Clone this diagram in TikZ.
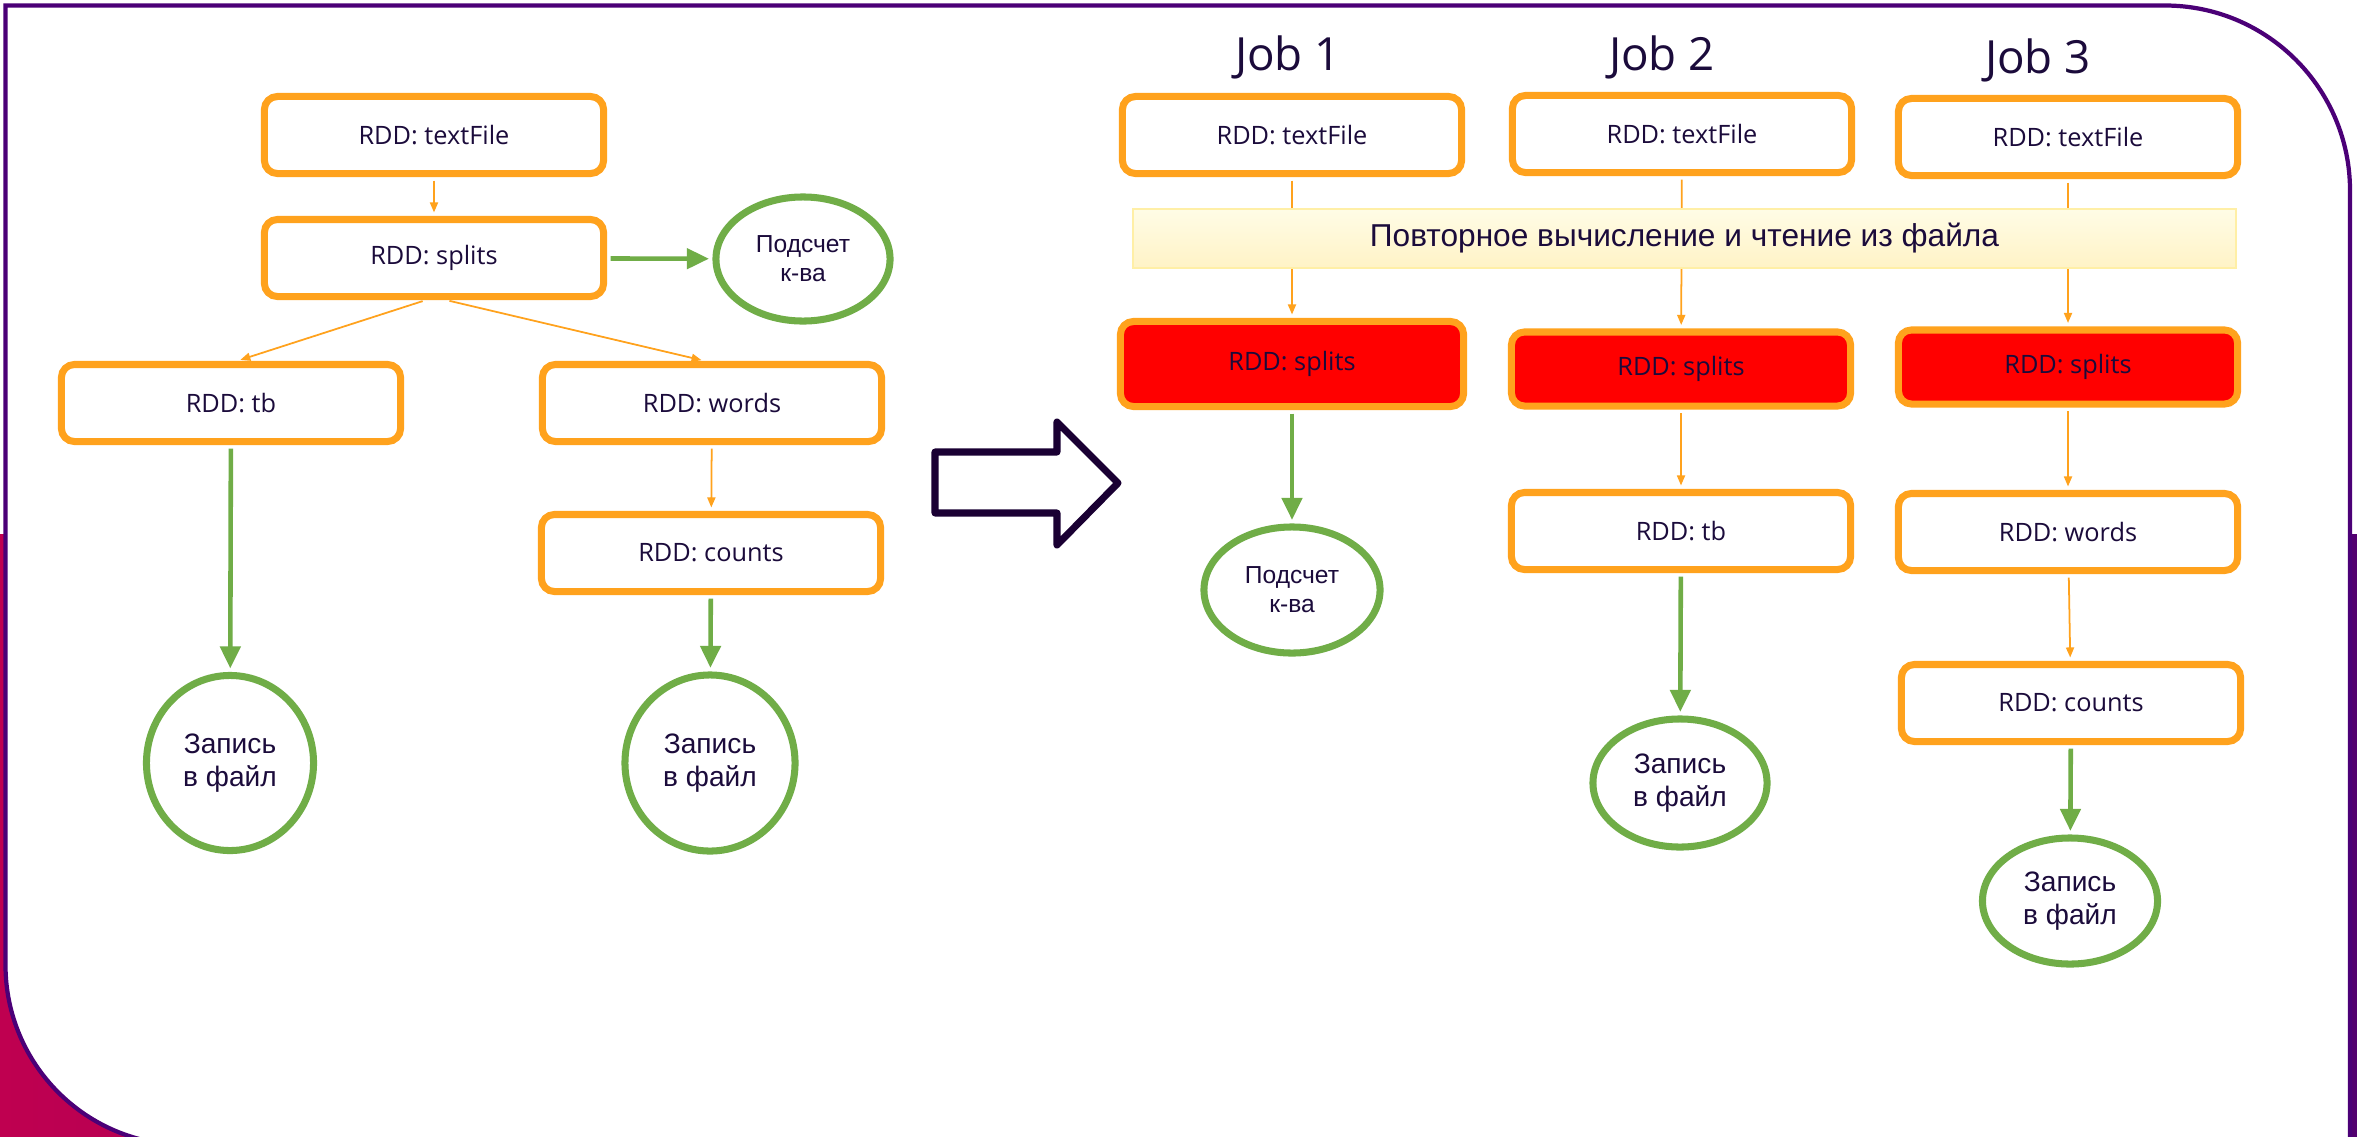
\documentclass[tikz,border=0pt]{standalone}
\usepackage{fontspec}
\setmainfont{Open Sans}
\newfontfamily\arialfont{Liberation Sans}
\usetikzlibrary{arrows.meta,shapes.geometric}

\definecolor{ink}{HTML}{1B0B3B}
\definecolor{arrowink}{HTML}{1A0033}
\definecolor{rddorange}{HTML}{FFA21D}
\definecolor{opgreen}{HTML}{70AD47}
\definecolor{framepurple}{HTML}{4B0077}
\definecolor{bandcrimson}{HTML}{BF0050}
\definecolor{bandpurple}{HTML}{52006F}
\definecolor{bannertop}{HTML}{FFFCE6}
\definecolor{bannerbottom}{HTML}{FFF3C6}
\definecolor{bannerline}{HTML}{FFEFA6}

\tikzset{
  rdd/.style={draw=rddorange, line width=2pt, rounded corners=0.13cm, fill=white,
    minimum width=3.39cm, minimum height=0.77cm, inner sep=0pt, text=ink,
    font=\fontsize{7.2}{9}\selectfont},
  hot/.style={rdd, fill=red},
  op/.style={ellipse, draw=opgreen, line width=2pt, fill=white, inner sep=0pt,
    text=ink, align=center},
  saveop/.style={op, font=\arialfont\fontsize{8}{9.3}\selectfont},
  countop/.style={op, font=\arialfont\fontsize{7}{8.2}\selectfont},
  flow/.style={draw=rddorange, line width=0.5pt, shorten <=1pt, shorten >=1pt,
    -{Triangle[length=0.1cm,width=0.08cm]}},
  act/.style={draw=opgreen, line width=1.3pt, shorten <=1pt, shorten >=1pt,
    -{Triangle[length=0.22cm,width=0.2cm]}},
  jobtitle/.style={text=ink, font=\fontsize{13}{16}\selectfont, inner sep=0pt},
}

\begin{document}
\begin{tikzpicture}[x=0.01cm, y=-0.01cm]
\useasboundingbox (0,0) rectangle (2357,1136);

% slide background and framed white panel
\fill[white] (0,0) rectangle (2357,1136);
\shade[left color=bandcrimson, right color=bandpurple] (0,534) rectangle (2357,1136);
\draw[framepurple, line width=1.2pt, fill=white]
  (5.5,965) -- (5.5,5.5) -- (2165,5.5)
  .. controls (2267,5.5) and (2350,88.5) .. (2350,190.5)
  -- (2350,1145) -- (185.5,1145)
  .. controls (86,1145) and (5.5,1064.4) .. (5.5,965) -- cycle;

% ---------- single lineage ----------
\node[rdd] (lText) at (434,135) {RDD: textFile};
\node[rdd] (lSplit) at (434,258) {RDD: splits};
\node[countop, minimum width=1.74cm, minimum height=1.24cm] (lCount) at (803,259) {Подсчет\\к-ва};
\node[rdd] (lTb) at (231,403) {RDD: tb};
\node[rdd] (lWords) at (712,403) {RDD: words};
\node[rdd] (lCounts) at (711,553) {RDD: counts};
\node[saveop, minimum width=1.67cm, minimum height=1.75cm] (lSave1) at (230,763) {Запись\\в файл};
\node[saveop, minimum width=1.70cm, minimum height=1.76cm] (lSave2) at (710,763) {Запись\\в файл};

\draw[flow] (lText) -- (lSplit);
\draw[act] (lSplit) -- (lCount);
\draw[flow] ([xshift=-0.08cm]lSplit.south) -- ([xshift=0.06cm]lTb.north);
\draw[flow] ([xshift=0.12cm]lSplit.south) -- ([xshift=-0.07cm]lWords.north);
\draw[flow] (lWords) -- (lCounts);
\draw[act] (lTb) -- (lSave1);
\draw[act] (lCounts) -- (lSave2);

% ---------- transition arrow ----------
\draw[arrowink, line width=2pt, line join=round]
  (935,452) -- (1057,452) -- (1057,422) -- (1118,483) -- (1057,545)
  -- (1057,513) -- (935,513) -- cycle;

% ---------- three jobs ----------
\node[jobtitle] (j1) at (1288,57) {Job 1};
\node[jobtitle] (j2) at (1662,57) {Job 2};
\node[jobtitle] (j3) at (2038,60) {Job 3};

\node[rdd] (t1) at (1292,135) {RDD: textFile};
\node[rdd] (t2) at (1682,134) {RDD: textFile};
\node[rdd] (t3) at (2068,137) {RDD: textFile};

\node[hot, minimum width=3.43cm, minimum height=0.85cm] (s1) at (1292,364) {RDD: splits};
\node[hot, minimum height=0.74cm] (s2) at (1681,369) {RDD: splits};
\node[hot, minimum height=0.74cm] (s3) at (2068,367) {RDD: splits};

\node[countop, minimum width=1.76cm, minimum height=1.26cm] (c1) at (1292,590) {Подсчет\\к-ва};
\node[rdd] (tb2) at (1681,531) {RDD: tb};
\node[saveop, minimum width=1.74cm, minimum height=1.28cm] (w2) at (1680,783) {Запись\\в файл};
\node[rdd] (wd3) at (2068,532) {RDD: words};
\node[rdd] (ct3) at (2071,703) {RDD: counts};
\node[saveop, minimum width=1.75cm, minimum height=1.26cm] (w3) at (2070,901) {Запись\\в файл};

\draw[flow] (t1) -- (s1);
\draw[flow] (t2) -- (s2);
\draw[flow] (t3) -- (s3);
\draw[act] (s1) -- (c1);
\draw[flow] (s2) -- (tb2);
\draw[act] (tb2) -- (w2);
\draw[flow] (s3) -- (wd3);
\draw[flow] (wd3) -- (ct3);
\draw[act] (ct3) -- (w3);

% recomputation banner laid over the textFile -> splits links
\node[draw=bannerline, line width=0.6pt, top color=bannertop, bottom color=bannerbottom,
  minimum width=11.03cm, minimum height=0.59cm, inner sep=0pt, text=ink,
  font=\arialfont\fontsize{9}{11}\selectfont] (redo) at (1684.5,238.5)
  {Повторное вычисление и чтение из файла};
\end{tikzpicture}
\end{document}
